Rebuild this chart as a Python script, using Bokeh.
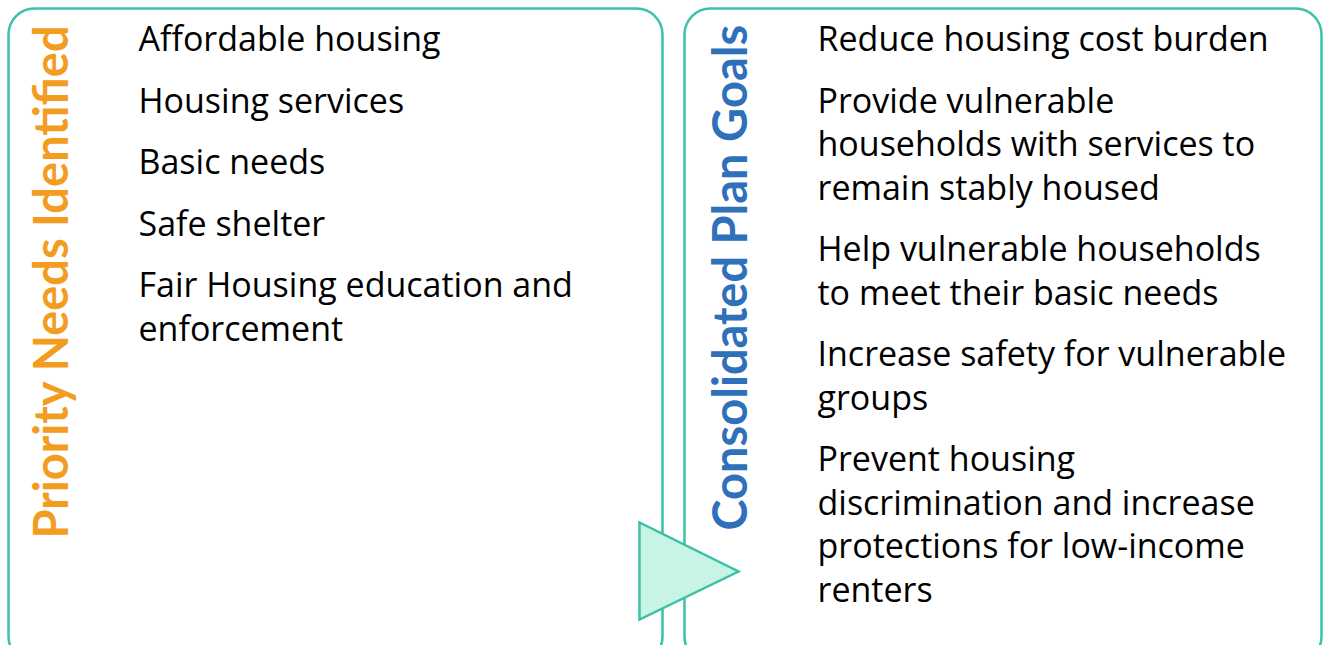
import math
from bokeh.plotting import figure
from bokeh.models import Range1d
from bokeh.core.properties import value
from bokeh.embed import file_html
from bokeh.resources import INLINE

# ---- content ----
left_title = "Priority Needs Identified"
right_title = "Consolidated Plan Goals"
left_items = [
    ["Affordable housing"],
    ["Housing services"],
    ["Basic needs"],
    ["Safe shelter"],
    ["Fair Housing education and", "enforcement"],
]
right_items = [
    ["Reduce housing cost burden"],
    ["Provide vulnerable", "households with services to", "remain stably housed"],
    ["Help vulnerable households", "to meet their basic needs"],
    ["Increase safety for vulnerable", "groups"],
    ["Prevent housing", "discrimination and increase", "protections for low-income", "renters"],
]

TEAL = "#3CC1A8"
TRI_FILL = "#C8F4E6"
ORANGE = "#F29D1F"
BLUE = "#2E70BA"
TITLE_FONT = "Lato"
BODY_FONT = "Open Sans"

W, H = 1324, 645
p = figure(width=W, height=H, x_range=Range1d(0, W), y_range=Range1d(H, 0),
           output_backend="svg", toolbar_location=None, min_border=0)
p.axis.visible = False
p.grid.visible = False
p.outline_line_color = None
p.background_fill_color = "white"
p.border_fill_color = "white"

# panels
p.quad(left=[8, 684], right=[662, 1321], top=[8, 8], bottom=[662, 662],
       fill_color="white", line_color=TEAL, line_width=2.5, border_radius=26)

# arrow triangle
p.patch(x=[639, 639, 738], y=[522, 619, 571], fill_color=TRI_FILL,
        line_color=TEAL, line_width=2.5, line_join="miter")

# rotated titles
p.text(x=[49], y=[538], text=[left_title], angle=math.pi / 2,
       text_font=value(TITLE_FONT), text_font_style="bold", text_font_size="47px",
       text_color=ORANGE, text_align="left", text_baseline="alphabetic")
p.text(x=[728], y=[530], text=[right_title], angle=math.pi / 2,
       text_font=value(TITLE_FONT), text_font_style="bold", text_font_size="47px",
       text_color=BLUE, text_align="left", text_baseline="alphabetic")

# body lists
LINE_STEP, ITEM_STEP = 43.5, 61.5

def layout(items, x0, y0):
    xs, ys, ts = [], [], []
    y = y0
    for item in items:
        for j, line in enumerate(item):
            xs.append(x0); ys.append(y); ts.append(line)
            y += LINE_STEP if j < len(item) - 1 else 0
        y += ITEM_STEP
    return xs, ys, ts

for items, x0 in ((left_items, 138), (right_items, 817)):
    xs, ys, ts = layout(items, x0, 37.5)
    p.text(x=xs, y=ys, text=ts, text_font=value(BODY_FONT), text_font_size="34px",
           text_color="black", text_align="left", text_baseline="alphabetic")

open("out.html", "w").write(file_html(p, INLINE))
